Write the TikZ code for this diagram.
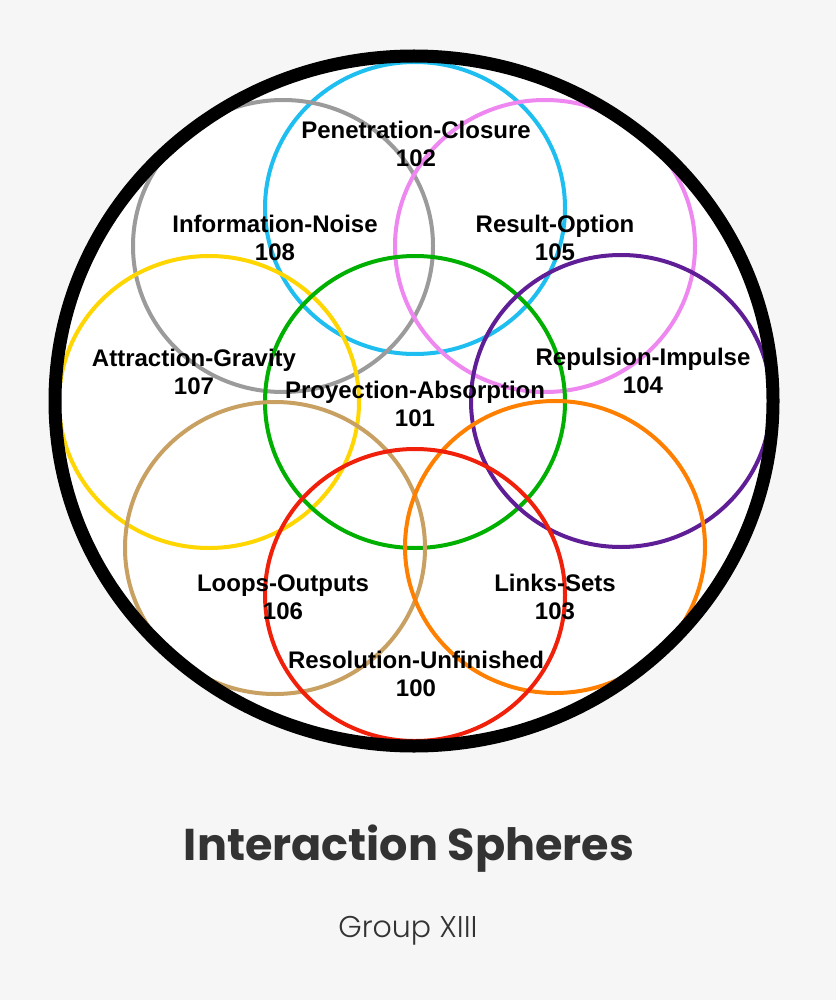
\documentclass[tikz,border=0pt]{standalone}
\usepackage{fontspec}
\setmainfont{Liberation Sans}
\newfontfamily\titlefont{Poppins}
\newfontfamily\subfont{Poppins Light}
\usetikzlibrary{shapes.geometric}

\definecolor{bgray}{HTML}{F6F6F6}
\definecolor{ccyan}{RGB}{30,190,240}
\definecolor{cgray}{RGB}{155,155,155}
\definecolor{cpink}{RGB}{238,135,240}
\definecolor{cyellow}{RGB}{255,214,0}
\definecolor{cgreen}{RGB}{0,176,0}
\definecolor{cpurple}{RGB}{95,30,150}
\definecolor{ctan}{RGB}{200,160,98}
\definecolor{corange}{RGB}{255,128,0}
\definecolor{cred}{RGB}{240,32,10}
\definecolor{ctext}{HTML}{333333}

\begin{document}
\begin{tikzpicture}
[x=1pt, y=-1pt,
sphere/.style={draw, ellipse, line width=4pt, minimum width=300pt, minimum height=292pt, inner sep=0pt},
lbl/.style={align=center, font=\bfseries\fontsize{24}{28}\selectfont}]

\fill[bgray] (0,0) rectangle (836,1000);
\useasboundingbox (0,0) rectangle (836,1000);

\node (outer)[ellipse, fill=white, minimum width=718pt, minimum height=690pt, inner sep=0pt] at (414,401) {};

% the nine spheres
\node (s102)[sphere, ccyan] at (415,208) {};
\node (s108)[sphere, cgray] at (283,246) {};
\node (s105)[sphere, cpink] at (545,246) {};
\node (s107)[sphere, cyellow] at (209,402) {};
\node (s101)[sphere, cgreen] at (415,402) {};
\node (s104)[sphere, cpurple] at (621,401) {};
\node (s106)[sphere, ctan] at (275,548) {};
\node (s103)[sphere, corange] at (555,547) {};
\node (s100)[sphere, cred] at (415,595) {};

\draw[line width=13pt] (outer.center) ellipse [x radius=359pt, y radius=345pt];

\node (l102)[lbl] at (416,144) {Penetration-Closure\\102};
\node (l108)[lbl] at (275,238) {Information-Noise\\108};
\node (l105)[lbl] at (555,238) {Result-Option\\105};
\node (l107)[lbl] at (194,372) {Attraction-Gravity\\107};
\node (l101)[lbl] at (415,404) {Proyection-Absorption\\101};
\node (l104)[lbl] at (643,371) {Repulsion-Impulse\\104};
\node (l106)[lbl] at (283,597) {Loops-Outputs\\106};
\node (l103)[lbl] at (555,597) {Links-Sets\\103};
\node (l100)[lbl] at (416,674) {Resolution-Unfinished\\100};

\node (title)[ctext, font=\titlefont\bfseries\fontsize{44.5}{48}\selectfont] at (409,849) {Interaction Spheres};
\node (sub)[ctext, font=\subfont\fontsize{30}{34}\selectfont] at (408,931) {Group XIII};

\end{tikzpicture}
\end{document}
